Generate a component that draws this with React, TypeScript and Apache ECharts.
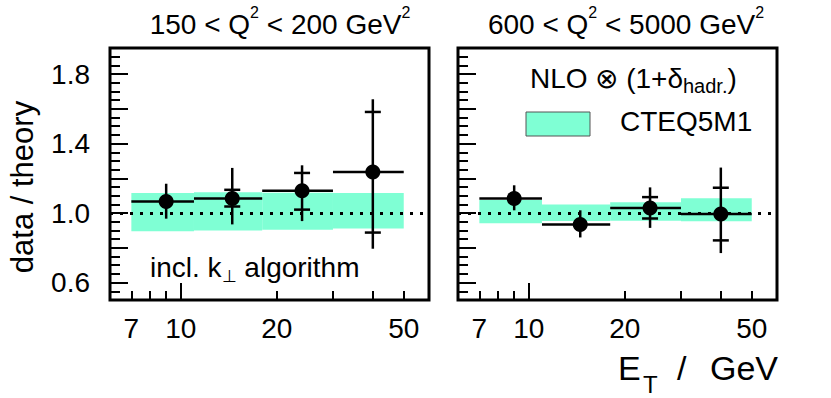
import React, { useEffect, useRef } from 'react';
import * as echarts from 'echarts';

// ---- data ----
const binLo = [7, 11, 18, 30];
const binHi = [11, 18, 30, 50];
const etCenter = [9.0, 14.5, 24.0, 40.0];

// 150 < Q^2 < 200 GeV^2
const lowRatio = [1.067, 1.084, 1.128, 1.236];
const lowTotLo = [0.968, 0.935, 0.954, 0.795];
const lowTotHi = [1.169, 1.26, 1.275, 1.655];
const lowStatLo = [null, 1.038, 1.02, 0.888];
const lowStatHi = [null, 1.134, 1.231, 1.582];
const lowBandLo = [0.895, 0.9, 0.904, 0.912];
const lowBandHi = [1.115, 1.12, 1.117, 1.115];

// 600 < Q^2 < 5000 GeV^2
const highRatio = [1.084, 0.935, 1.03, 0.995];
const highTotLo = [1.016, 0.86, 0.915, 0.77];
const highTotHi = [1.16, 1.016, 1.148, 1.262];
const highStatLo = [null, null, 0.969, 0.843];
const highStatHi = [null, null, 1.092, 1.146];
const highBandLo = [0.942, 0.955, 0.956, 0.953];
const highBandHi = [1.075, 1.049, 1.062, 1.086];

const xTickLabels = [7, 10, 20, 50];
const xMajorTicks = [10];
const xMinorTicks = [7, 8, 9, 20, 30, 40, 50];
const yLabelValues = [0.6, 1.0, 1.4, 1.8];
const yMajorTicks = [0.6, 0.8, 1.0, 1.2, 1.4, 1.6, 1.8];

const FONT = '"Liberation Sans", Arial, Helvetica, sans-serif';
const BAND = '#7fffd4';

const panels = [
  { left: 110, ratio: lowRatio, totLo: lowTotLo, totHi: lowTotHi, statLo: lowStatLo, statHi: lowStatHi, bandLo: lowBandLo, bandHi: lowBandHi },
  { left: 458, ratio: highRatio, totLo: highTotLo, totHi: highTotHi, statLo: highStatLo, statHi: highStatHi, bandLo: highBandLo, bandHi: highBandHi },
];

function buildOption() {
  const grid: any[] = [];
  const xAxis: any[] = [];
  const yAxis: any[] = [];
  const series: any[] = [];

  panels.forEach((p, g) => {
    grid.push({
      left: p.left, top: 48, width: 319, height: 252, show: true,
      borderColor: '#000', borderWidth: 3, backgroundColor: 'transparent',
      outerBoundsMode: 'none', containLabel: false,
    });
    xAxis.push({
      type: 'log', logBase: 10, gridIndex: g, min: 6, max: 60, position: 'bottom',
      axisLine: { show: false }, splitLine: { show: false }, minorTick: { show: false },
      axisTick: { show: true, inside: true, length: 17, customValues: xMajorTicks, lineStyle: { color: '#000', width: 2 } },
      axisLabel: {
        show: true, customValues: xTickLabels, formatter: (v: number) => String(Math.round(v)),
        fontSize: 28, color: '#000', fontFamily: FONT, margin: 14,
      },
    });
    xAxis.push({
      type: 'log', logBase: 10, gridIndex: g, min: 6, max: 60, position: 'bottom',
      axisLine: { show: false }, splitLine: { show: false }, minorTick: { show: false },
      axisTick: { show: true, inside: true, length: 9, customValues: xMinorTicks, lineStyle: { color: '#000', width: 2 } },
      axisLabel: { show: false },
    });
    yAxis.push({
      type: 'value', gridIndex: g, min: 0.5, max: 1.95, position: 'left',
      axisLine: { show: false }, splitLine: { show: false },
      axisTick: { show: true, inside: true, length: 18, customValues: yMajorTicks, lineStyle: { color: '#000', width: 2 } },
      axisLabel: {
        show: g === 0, customValues: yLabelValues, formatter: (v: number) => v.toFixed(1),
        fontSize: 28, color: '#000', fontFamily: FONT, margin: 20,
      },
    });
    yAxis.push({
      type: 'value', gridIndex: g, min: 0.5, max: 1.95, interval: 0.05, position: 'left',
      axisLine: { show: false }, splitLine: { show: false },
      axisTick: { show: true, inside: true, length: 10, lineStyle: { color: '#000', width: 2 } },
      axisLabel: { show: false },
    });

    const xi = g * 2;
    const yi = g * 2;

    series.push({
      type: 'custom', xAxisIndex: xi, yAxisIndex: yi, z: 1, silent: true,
      data: binLo.map((lo, i) => [lo, binHi[i], p.bandLo[i], p.bandHi[i]]),
      encode: { x: [0, 1], y: [2, 3] },
      renderItem: (params: any, api: any) => {
        const a = api.coord([api.value(0), api.value(3)]);
        const b = api.coord([api.value(1), api.value(2)]);
        return {
          type: 'rect',
          shape: { x: a[0], y: a[1], width: b[0] - a[0], height: b[1] - a[1] },
          style: { fill: BAND },
        };
      },
      markLine: {
        silent: true, symbol: 'none', label: { show: false }, animation: false,
        lineStyle: { color: '#000', width: 3, type: [3, 7], cap: 'butt', opacity: 1 },
        data: [{ yAxis: 1.0 }],
      },
    });

    series.push({
      type: 'custom', xAxisIndex: xi, yAxisIndex: yi, z: 3, silent: true,
      data: etCenter.map((x, i) => [x, p.ratio[i], binLo[i], binHi[i], p.totLo[i], p.totHi[i]]),
      encode: { x: 0, y: 1 },
      renderItem: (params: any, api: any) => {
        const i = params.dataIndex;
        const x = api.value(0);
        const y = api.value(1);
        const c = api.coord([x, y]);
        const l = api.coord([api.value(2), y]);
        const r = api.coord([api.value(3), y]);
        const b = api.coord([x, api.value(4)]);
        const t = api.coord([x, api.value(5)]);
        const st = { stroke: '#000', lineWidth: 2.5 };
        const children: any[] = [
          { type: 'line', shape: { x1: l[0], y1: c[1], x2: r[0], y2: c[1] }, style: st },
          { type: 'line', shape: { x1: c[0], y1: t[1], x2: c[0], y2: b[1] }, style: st },
        ];
        const sl = p.statLo[i];
        const sh = p.statHi[i];
        [sl, sh].forEach((v) => {
          if (v != null) {
            const q = api.coord([x, v]);
            children.push({ type: 'line', shape: { x1: c[0] - 8, y1: q[1], x2: c[0] + 8, y2: q[1] }, style: st });
          }
        });
        return { type: 'group', children };
      },
    });

    series.push({
      type: 'scatter', xAxisIndex: xi, yAxisIndex: yi, z: 4, silent: true,
      symbol: 'circle', symbolSize: 15,
      itemStyle: { color: '#000', opacity: 1 },
      data: etCenter.map((x, i) => [x, p.ratio[i]]),
    });
  });

  const n = { fontSize: 28, fontFamily: FONT, fill: '#000', lineHeight: 40 };
  const sup = { fontSize: 16, fontFamily: FONT, fill: '#000', lineHeight: 16, verticalAlign: 'top' };

  const graphic: any[] = [
    {
      type: 'text', x: 280, y: 4,
      style: {
        text: '{n|150 < Q}{s|2}{n| < 200 GeV}{s|2}', rich: { n, s: sup },
        align: 'center', verticalAlign: 'top',
      },
    },
    {
      type: 'text', x: 626, y: 4,
      style: {
        text: '{n|600 < Q}{s|2}{n| < 5000 GeV}{s|2}', rich: { n, s: sup },
        align: 'center', verticalAlign: 'top',
      },
    },
    {
      type: 'text', x: 150, y: 249,
      style: {
        text: '{n|incl. k}{b|\u22A5}{n| algorithm}',
        rich: {
          n: { fontSize: 28, fontFamily: FONT, fill: '#000', lineHeight: 36 },
          b: { fontSize: 17, fontFamily: FONT, fill: '#000', lineHeight: 8, verticalAlign: 'bottom' },
        },
        align: 'left', verticalAlign: 'top',
      },
    },
    {
      type: 'text', x: 530, y: 60,
      style: {
        text: '{n|NLO \u2297 (1+\u03B4}{b|hadr.}{n|)}',
        rich: {
          n: { fontSize: 28, fontFamily: FONT, fill: '#000', lineHeight: 36 },
          b: { fontSize: 20, fontFamily: FONT, fill: '#000', lineHeight: 10, verticalAlign: 'bottom' },
        },
        align: 'left', verticalAlign: 'top',
      },
    },
    {
      type: 'rect', shape: { x: 526, y: 112, width: 64, height: 24 },
      style: { fill: BAND, stroke: '#555', lineWidth: 1 },
    },
    {
      type: 'text', x: 620, y: 121,
      style: { text: 'CTEQ5M1', fontSize: 28, fontFamily: FONT, fill: '#000', align: 'left', verticalAlign: 'middle' },
    },
    {
      type: 'text', x: 22, y: 187, rotation: Math.PI / 2,
      style: { text: 'data / theory', fontSize: 31, fontFamily: FONT, fill: '#000', align: 'center', verticalAlign: 'middle' },
    },
    {
      type: 'text', x: 618, y: 368,
      style: { text: 'E', fontSize: 34, fontFamily: FONT, fill: '#000', align: 'left', verticalAlign: 'middle' },
    },
    {
      type: 'text', x: 643, y: 384,
      style: { text: 'T', fontSize: 24, fontFamily: FONT, fill: '#000', align: 'left', verticalAlign: 'middle' },
    },
    {
      type: 'text', x: 677, y: 368,
      style: { text: '/', fontSize: 34, fontFamily: FONT, fill: '#000', align: 'left', verticalAlign: 'middle' },
    },
    {
      type: 'text', x: 710, y: 368,
      style: { text: 'GeV', fontSize: 34, fontFamily: FONT, fill: '#000', align: 'left', verticalAlign: 'middle' },
    },
  ];

  return {
    animation: false,
    backgroundColor: '#fff',
    textStyle: { fontFamily: FONT },
    grid, xAxis, yAxis, series, graphic,
  };
}

export default function App() {
  const ref = useRef<HTMLDivElement>(null);
  useEffect(() => {
    const chart = echarts.init(ref.current!, null, { renderer: 'svg' });
    chart.setOption(buildOption() as any);
    return () => chart.dispose();
  }, []);
  return (
    <div
      ref={ref}
      style={{ position: 'fixed', left: 0, top: 0, width: 831, height: 398, background: '#fff' }}
    />
  );
}
